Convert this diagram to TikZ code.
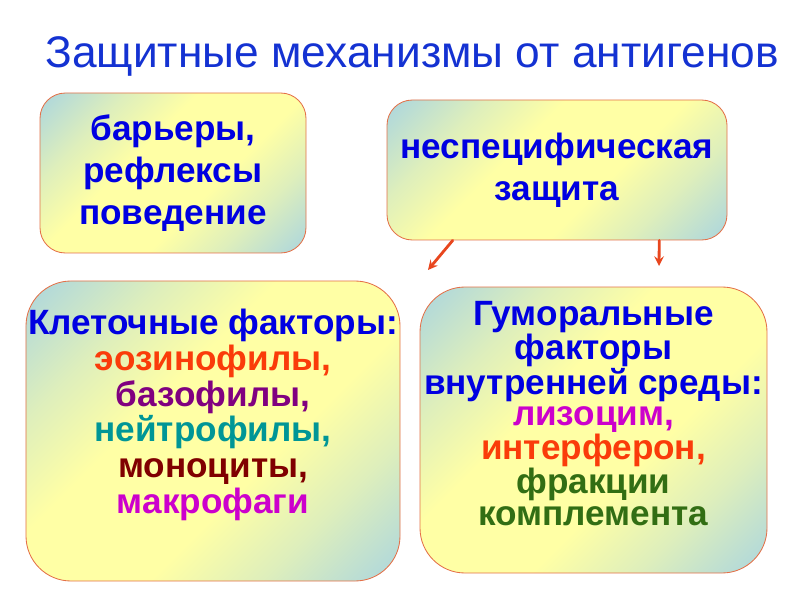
\documentclass[tikz,border=0pt]{standalone}
\usepackage{fontspec}
\setmainfont{Liberation Sans}
\usetikzlibrary{calc}
\definecolor{titleblue}{RGB}{20,50,210}
\definecolor{tblue}{RGB}{0,0,225}
\definecolor{boxline}{RGB}{228,112,72}
\definecolor{boxblue}{RGB}{172,214,222}
\definecolor{boxyellow}{RGB}{255,255,165}
\definecolor{arrowred}{RGB}{232,70,30}
\definecolor{eozred}{RGB}{250,60,10}
\definecolor{bazpurple}{RGB}{128,0,128}
\definecolor{neitteal}{RGB}{0,150,150}
\definecolor{monobrown}{RGB}{128,0,0}
\definecolor{makmagenta}{RGB}{204,0,204}
\definecolor{fracgreen}{RGB}{50,110,20}
\pgfdeclarehorizontalshading{boxshade}{100bp}{color(0bp)=(boxblue); color(15bp)=(boxblue);
  color(29bp)=(boxyellow!60!boxblue); color(41bp)=(boxyellow); color(59bp)=(boxyellow);
  color(71bp)=(boxyellow!60!boxblue); color(85bp)=(boxblue); color(100bp)=(boxblue)}
\begin{document}
\begin{tikzpicture}[line join=round, line cap=round, >=stealth,
  box/.style={draw=boxline, line width=0.6pt, rounded corners=#1,
    shading=boxshade, shading angle=-45, inner sep=0pt},
  box/.default=18pt,
  bigtext/.style={font=\bfseries\fontsize{25}{30}\selectfont, text=tblue, align=center},
  listtext/.style={font=\bfseries\fontsize{25}{#1}\selectfont, text=tblue, align=center},
  arr/.style={->, draw=arrowred, line width=2pt}]
\useasboundingbox (0,0) rectangle (20,15);
% title
\node (title) at (10.3,13.6) [text=titleblue, font=\fontsize{31.5}{36}\selectfont]
  {Защитные механизмы от антигенов};
% upper boxes
\node (barery) at (4.325,10.675) [box, minimum width=6.65cm, minimum height=4cm, bigtext]
  {барьеры,\\ рефлексы\\ поведение};
\node (zashchita) at (13.925,10.75) [box, minimum width=8.5cm, minimum height=3.5cm, bigtext]
  {неспецифическая\\ защита};
% lower boxes
\node (kletki) at (5.325,4.225) [box=32pt, minimum width=9.35cm, minimum height=7.5cm] {};
\node (kletkitext) at (5.325,7.4) [anchor=north, listtext=25.5]
  {Клеточные факторы:\\
   \textcolor{eozred}{эозинофилы,}\\
   \textcolor{bazpurple}{базофилы,}\\
   \textcolor{neitteal}{нейтрофилы,}\\
   \textcolor{monobrown}{моноциты,}\\
   \textcolor{makmagenta}{макрофаги}};
\node (gumor) at (14.8375,4.25) [box=32pt, minimum width=8.675cm, minimum height=7.15cm] {};
\node (gumortext) at (14.8375,7.6) [anchor=north, listtext=22.5]
  {Гуморальные\\ факторы\\ внутренней среды:\\
   \textcolor{makmagenta}{лизоцим,}\\
   \textcolor{eozred}{интерферон,}\\
   \textcolor{fracgreen}{фракции}\\
   \textcolor{fracgreen}{комплемента}};
% arrows
\coordinate (leftend) at (10.7,8.25);
\coordinate (rightend) at (16.475,8.35);
\draw[arr] ($(zashchita.south west)!0.194!(zashchita.south east)$) -- (leftend);
\draw[arr] ($(zashchita.south west)!0.8!(zashchita.south east)$) -- (rightend);
\end{tikzpicture}
\end{document}
